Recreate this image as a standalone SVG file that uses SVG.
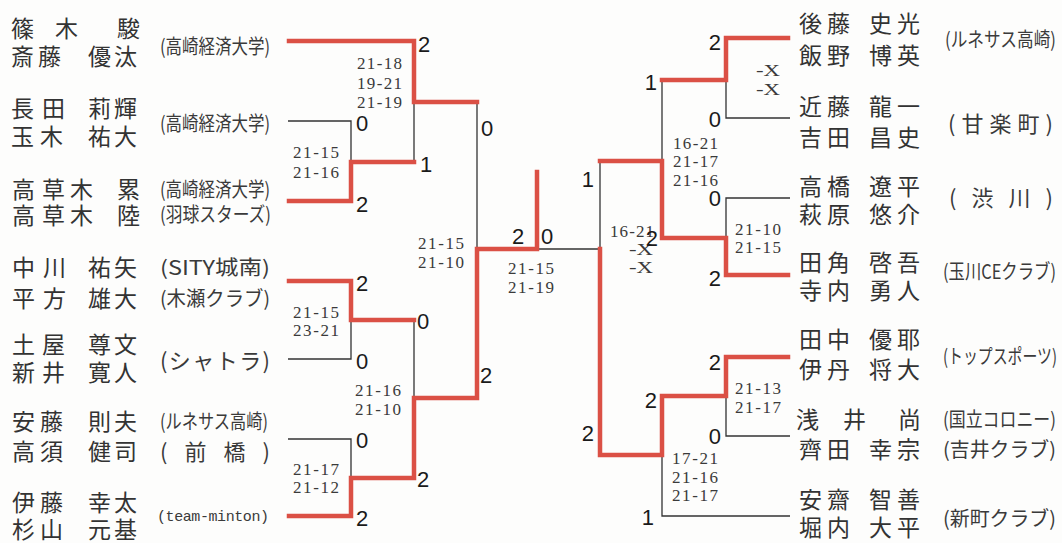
<svg xmlns="http://www.w3.org/2000/svg" width="1062" height="543" viewBox="0 0 1062 543">
<style>
.nm{font-family:"Noto Sans CJK JP","Noto Sans CJK SC",sans-serif;font-size:23px;fill:#333;dominant-baseline:central}
.nr{font-family:"Noto Sans CJK JP","Noto Sans CJK SC",sans-serif;font-size:23px;fill:#333;dominant-baseline:central}
.cl{font-family:"Noto Sans CJK JP","Noto Sans CJK SC",sans-serif;font-size:20px;fill:#3a3a3a;dominant-baseline:central}
.cw{font-family:"Noto Sans CJK JP","Noto Sans CJK SC",sans-serif;font-size:22px;fill:#3a3a3a;dominant-baseline:central}
.tm{font-family:"Liberation Mono",monospace;font-size:15px;fill:#3a3a3a;dominant-baseline:central}
.sc{font-family:"Liberation Serif",serif;font-size:17px;fill:#3a3a3a;dominant-baseline:central}
.rd{font-family:"Liberation Sans",sans-serif;font-size:22px;fill:#1a1a1a;dominant-baseline:central}
.re{font-family:"Liberation Sans",sans-serif;font-size:22px;fill:#1a1a1a;dominant-baseline:central;text-anchor:end}
.red{fill:none;stroke:#db5045;stroke-width:4.5;stroke-linejoin:miter;stroke-linecap:square}
.blk{fill:none;stroke:#333;stroke-width:1.3}
</style>
<rect width="1062" height="543" fill="#fdfdfc"/>

<g id="connectors">
  <path class="blk" d="M288 121 H351 V162"/>
  <path class="blk" d="M414 102 V162"/>
  <path class="blk" d="M477 102 V249"/>
  <path class="blk" d="M288 359 H351 V320"/>
  <path class="blk" d="M414 320 V398"/>
  <path class="blk" d="M288 439 H351 V478"/>
  <path class="blk" d="M537 249 H600"/>
  <path class="blk" d="M790 118 H726 V80"/>
  <path class="blk" d="M790 198 H726 V238"/>
  <path class="blk" d="M662 80 V161"/>
  <path class="blk" d="M600 161 V249"/>
  <path class="blk" d="M790 436 H726 V396"/>
  <path class="blk" d="M790 516 H662 V455"/>
  <path class="red" d="M289 41 H414 V102 H477"/>
  <path class="red" d="M289 201 H351 V162 H414"/>
  <path class="red" d="M289 281 H351 V320 H414"/>
  <path class="red" d="M289 516 H351 V478 H414 V398 H477 V249 H537 V172"/>
  <path class="red" d="M788 275 H726 V238 H662 V161 H600"/>
  <path class="red" d="M788 38 H726 V80 H662"/>
  <path class="red" d="M788 357 H726 V396 H662 V455 H600 V249"/>
</g>

<g id="scores">
  <text class="sc" x="357" y="63" textLength="45">21-18</text>
  <text class="sc" x="357" y="83" textLength="45">19-21</text>
  <text class="sc" x="357" y="102" textLength="45">21-19</text>
  <text class="sc" x="293" y="152" textLength="46">21-15</text>
  <text class="sc" x="293" y="172" textLength="46">21-16</text>
  <text class="sc" x="418" y="243" textLength="46">21-15</text>
  <text class="sc" x="418" y="262" textLength="46">21-10</text>
  <text class="sc" x="508" y="268" textLength="46">21-15</text>
  <text class="sc" x="508" y="287" textLength="46">21-19</text>
  <text class="sc" x="293" y="312" textLength="46">21-15</text>
  <text class="sc" x="293" y="330" textLength="46">23-21</text>
  <text class="sc" x="355" y="390" textLength="46">21-16</text>
  <text class="sc" x="355" y="409" textLength="46">21-10</text>
  <text class="sc" x="293" y="469" textLength="46">21-17</text>
  <text class="sc" x="293" y="487" textLength="46">21-12</text>
  <text class="sc" x="756" y="70" textLength="24" lengthAdjust="spacingAndGlyphs">-X</text>
  <text class="sc" x="756" y="89" textLength="24" lengthAdjust="spacingAndGlyphs">-X</text>
  <text class="sc" x="673" y="143" textLength="45">16-21</text>
  <text class="sc" x="673" y="161" textLength="45">21-17</text>
  <text class="sc" x="673" y="180" textLength="45">21-16</text>
  <text class="sc" x="610" y="231" textLength="44">16-21</text>
  <text class="sc" x="629" y="249" textLength="24" lengthAdjust="spacingAndGlyphs">-X</text>
  <text class="sc" x="629" y="267" textLength="24" lengthAdjust="spacingAndGlyphs">-X</text>
  <text class="sc" x="735" y="229" textLength="46">21-10</text>
  <text class="sc" x="735" y="247" textLength="46">21-15</text>
  <text class="sc" x="735" y="388" textLength="46">21-13</text>
  <text class="sc" x="735" y="407" textLength="46">21-17</text>
  <text class="sc" x="672" y="458" textLength="46">17-21</text>
  <text class="sc" x="672" y="477" textLength="46">21-16</text>
  <text class="sc" x="672" y="495" textLength="46">21-17</text>

  <text class="rd" x="418" y="44">2</text>
  <text class="rd" x="356" y="123">0</text>
  <text class="rd" x="356" y="204">2</text>
  <text class="rd" x="420" y="164">1</text>
  <text class="rd" x="481" y="128">0</text>
  <text class="rd" x="356" y="283">2</text>
  <text class="rd" x="417" y="321">0</text>
  <text class="rd" x="356" y="361">0</text>
  <text class="rd" x="480" y="375">2</text>
  <text class="rd" x="356" y="440">0</text>
  <text class="rd" x="417" y="479">2</text>
  <text class="rd" x="356" y="518">2</text>
  <text class="rd" x="512" y="236">2</text>
  <text class="rd" x="541" y="236">0</text>

  <text class="re" x="721" y="42">2</text>
  <text class="re" x="657" y="82">1</text>
  <text class="re" x="721" y="119">0</text>
  <text class="re" x="594" y="179">1</text>
  <text class="re" x="721" y="198">0</text>
  <text class="re" x="658" y="238">2</text>
  <text class="re" x="721" y="278">2</text>
  <text class="re" x="721" y="362">2</text>
  <text class="re" x="657" y="400">2</text>
  <text class="re" x="594" y="433">2</text>
  <text class="re" x="721" y="436">0</text>
  <text class="re" x="654" y="517">1</text>
</g>

<g id="L1">
  <text class="nm" x="11 36 55 90 117" y="27">篠 木 駿</text>
  <text class="nm" x="11 38 66 88 114" y="55">斎藤 優汰</text>
  <text class="cl" x="160" y="45" textLength="110" lengthAdjust="spacingAndGlyphs">(高崎経済大学)</text>
</g>
<g id="L2">
  <text class="nm" x="11 42 66 88 114" y="107">長田 莉輝</text>
  <text class="nm" x="11 40 66 88 114" y="135">玉木 祐大</text>
  <text class="cl" x="160" y="122" textLength="110" lengthAdjust="spacingAndGlyphs">(高崎経済大学)</text>
</g>
<g id="L3">
  <text class="nm" x="12 42 70 96 117" y="188">高草木 累</text>
  <text class="nm" x="12 42 70 96 117" y="214">高草木 陸</text>
  <text class="cl" x="160" y="188" textLength="110" lengthAdjust="spacingAndGlyphs">(高崎経済大学)</text>
  <text class="cl" x="160" y="213" textLength="111" lengthAdjust="spacingAndGlyphs">(羽球スターズ)</text>
</g>
<g id="L4">
  <text class="nm" x="12 43 66 88 114" y="266">中川 祐矢</text>
  <text class="nm" x="12 43 66 88 114" y="297">平方 雄大</text>
  <text class="cl" x="160" y="266" textLength="110" lengthAdjust="spacingAndGlyphs">(SITY城南)</text>
  <text class="cl" x="160" y="297" textLength="110" lengthAdjust="spacingAndGlyphs">(木瀬クラブ)</text>
</g>
<g id="L5">
  <text class="nm" x="12 42 66 88 114" y="343">土屋 尊文</text>
  <text class="nm" x="12 42 66 88 114" y="371">新井 寛人</text>
  <text class="cw" x="160" y="359" textLength="110">(シャトラ)</text>
</g>
<g id="L6">
  <text class="nm" x="12 40 66 88 114" y="420">安藤 則夫</text>
  <text class="nm" x="12 40 66 88 114" y="450">高須 健司</text>
  <text class="cl" x="160" y="420" textLength="108" lengthAdjust="spacingAndGlyphs">(ルネサス高崎)</text>
  <text class="cw" x="160" y="450" textLength="110">( 前 橋 )</text>
</g>
<g id="L7">
  <text class="nm" x="12 40 66 88 114" y="501">伊藤 幸太</text>
  <text class="nm" x="12 40 66 88 114" y="528">杉山 元基</text>
  <text class="tm" x="157" y="517" textLength="112">(team-minton)</text>
</g>

<g id="R1">
  <text class="nr" x="799 827 850 869 897" y="22">後藤 史光</text>
  <text class="nr" x="799 827 850 869 897" y="54">飯野 博英</text>
  <text class="cl" x="945" y="38" textLength="111" lengthAdjust="spacingAndGlyphs">(ルネサス高崎)</text>
</g>
<g id="R2">
  <text class="nr" x="799 827 850 869 897" y="105">近藤 龍一</text>
  <text class="nr" x="799 827 850 869 897" y="136">吉田 昌史</text>
  <text class="cw" x="948" y="122" textLength="105">(甘楽町)</text>
</g>
<g id="R3">
  <text class="nr" x="799 827 850 869 897" y="185">高橋 遼平</text>
  <text class="nr" x="799 827 850 869 897" y="213">萩原 悠介</text>
  <text class="cw" x="949" y="196" textLength="104">( 渋 川 )</text>
</g>
<g id="R4">
  <text class="nr" x="799 827 850 869 897" y="261">田角 啓吾</text>
  <text class="nr" x="799 827 850 869 897" y="289">寺内 勇人</text>
  <text class="cl" x="943" y="270" textLength="113" lengthAdjust="spacingAndGlyphs">(玉川CEクラブ)</text>
</g>
<g id="R5">
  <text class="nr" x="799 827 850 869 897" y="338">田中 優耶</text>
  <text class="nr" x="799 827 850 869 897" y="368">伊丹 将大</text>
  <text class="cl" x="943" y="355" textLength="114" lengthAdjust="spacingAndGlyphs">(トップスポーツ)</text>
</g>
<g id="R6">
  <text class="nr" x="796 820 843 870 898" y="418">浅 井 尚</text>
  <text class="nr" x="799 827 850 869 897" y="448">齊田 幸宗</text>
  <text class="cl" x="943" y="418" textLength="113" lengthAdjust="spacingAndGlyphs">(国立コロニー)</text>
  <text class="cl" x="943" y="448" textLength="113" lengthAdjust="spacingAndGlyphs">(吉井クラブ)</text>
</g>
<g id="R7">
  <text class="nr" x="799 827 850 869 897" y="498">安齋 智善</text>
  <text class="nr" x="799 827 850 869 897" y="526">堀内 大平</text>
  <text class="cl" x="943" y="517" textLength="113" lengthAdjust="spacingAndGlyphs">(新町クラブ)</text>
</g>
</svg>
